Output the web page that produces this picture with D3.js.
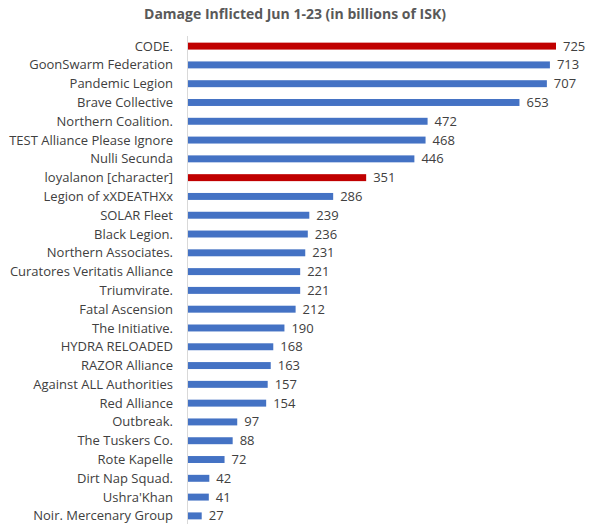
<!DOCTYPE html>
<html><head><meta charset="utf-8">
<script src="https://cdn.jsdelivr.net/npm/d3@7"></script>
<style>body{margin:0;background:#fff;} text{font-family:"Open Sans",sans-serif;}</style>
</head><body><svg id="c" width="590" height="531"></svg>
<script>
const categories = ["CODE.","GoonSwarm Federation","Pandemic Legion","Brave Collective","Northern Coalition.","TEST Alliance Please Ignore","Nulli Secunda","loyalanon [character]","Legion of xXDEATHXx","SOLAR Fleet","Black Legion.","Northern Associates.","Curatores Veritatis Alliance","Triumvirate.","Fatal Ascension","The Initiative.","HYDRA RELOADED","RAZOR Alliance","Against ALL Authorities","Red Alliance","Outbreak.","The Tuskers Co.","Rote Kapelle","Dirt Nap Squad.","Ushra'Khan","Noir. Mercenary Group"];
const values = [725,713,707,653,472,468,446,351,286,239,236,231,221,221,212,190,168,163,157,154,97,88,72,42,41,27];
const highlighted = ["CODE.","loyalanon [character]"];
const title = "Damage Inflicted Jun 1-23 (in billions of ISK)";

const svg = d3.select("#c");
const x = d3.scaleLinear().domain([0,725]).range([188,556]);
const y = d3.scaleBand().domain(categories).range([37,525]).paddingInner(0.63).paddingOuter(0.3);

svg.append("text").attr("x",295).attr("y",19).attr("text-anchor","middle")
  .attr("font-size",14).attr("font-weight","bold").attr("fill","#595959").text(title);

svg.append("line").attr("x1",187.5).attr("x2",187.5).attr("y1",36).attr("y2",524)
  .attr("stroke","#d9d9d9").attr("stroke-width",1);

const data = categories.map((c,i)=>({c,v:values[i]}));
svg.selectAll("rect.bar").data(data).join("rect").attr("class","bar")
  .attr("x",x(0)).attr("y",d=>y(d.c)).attr("height",y.bandwidth())
  .attr("width",d=>x(d.v)-x(0))
  .attr("fill",d=>highlighted.includes(d.c)?"#C00000":"#4472C4");

svg.selectAll("text.val").data(data).join("text").attr("class","val")
  .attr("x",d=>x(d.v)+7).attr("y",d=>y(d.c)+y.bandwidth()/2).attr("dy","0.35em")
  .attr("font-size",13).attr("fill","#404040").text(d=>d.v);

svg.selectAll("text.cat").data(data).join("text").attr("class","cat")
  .attr("x",173).attr("y",d=>y(d.c)+y.bandwidth()/2).attr("dy","0.35em")
  .attr("text-anchor","end").attr("font-size",13).attr("fill","#404040").text(d=>d.c);
</script></body></html>
